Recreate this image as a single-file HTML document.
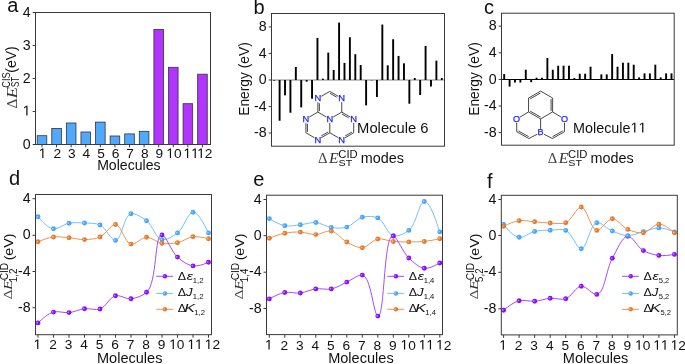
<!DOCTYPE html>
<html><head><meta charset="utf-8"><style>
html,body{margin:0;padding:0;background:#fff;}
svg{display:block;will-change:transform;}
</style></head><body>
<svg width="685" height="364" viewBox="0 0 685 364" shape-rendering="auto">
<rect width="685" height="364" fill="#fff"/>
<text x="7.15" y="11.60" font-size="20" font-family="'Liberation Sans', sans-serif" fill="#111" textLength="11.12" lengthAdjust="spacingAndGlyphs" >a</text>
<text x="253.61" y="13.50" font-size="20" font-family="'Liberation Sans', sans-serif" fill="#111" textLength="11.12" lengthAdjust="spacingAndGlyphs" >b</text>
<text x="484.05" y="13.90" font-size="20" font-family="'Liberation Sans', sans-serif" fill="#111" textLength="10.00" lengthAdjust="spacingAndGlyphs" >c</text>
<text x="9.06" y="185.10" font-size="20" font-family="'Liberation Sans', sans-serif" fill="#111" textLength="11.12" lengthAdjust="spacingAndGlyphs" >d</text>
<text x="253.35" y="185.70" font-size="20" font-family="'Liberation Sans', sans-serif" fill="#111" textLength="11.12" lengthAdjust="spacingAndGlyphs" >e</text>
<text x="486.92" y="187.80" font-size="20" font-family="'Liberation Sans', sans-serif" fill="#111" textLength="5.56" lengthAdjust="spacingAndGlyphs" >f</text>
<line x1="32.70" y1="144.50" x2="35.50" y2="144.50" stroke="#3a3a3a" stroke-width="1" />
<text x="22.70" y="148.50" font-size="14.2" font-family="'Liberation Sans', sans-serif" fill="#111">0</text>
<line x1="32.70" y1="111.50" x2="35.50" y2="111.50" stroke="#3a3a3a" stroke-width="1" />
<path d="M515,0 L515,1237 L197,1010 L197,1180 L530,1409 L696,1409 L696,0 Z" transform="translate(22.70,115.50) scale(0.00693,-0.00693)" fill="#111"/>
<line x1="32.70" y1="78.50" x2="35.50" y2="78.50" stroke="#3a3a3a" stroke-width="1" />
<text x="22.70" y="82.50" font-size="14.2" font-family="'Liberation Sans', sans-serif" fill="#111">2</text>
<line x1="32.70" y1="45.50" x2="35.50" y2="45.50" stroke="#3a3a3a" stroke-width="1" />
<text x="22.70" y="49.50" font-size="14.2" font-family="'Liberation Sans', sans-serif" fill="#111">3</text>
<line x1="32.70" y1="12.50" x2="35.50" y2="12.50" stroke="#3a3a3a" stroke-width="1" />
<text x="22.70" y="16.50" font-size="14.2" font-family="'Liberation Sans', sans-serif" fill="#111">4</text>
<rect x="37.20" y="135.70" width="9.6" height="8.80" fill="#4fa9ff" stroke="#333" stroke-width="0.8"/>
<line x1="42.00" y1="144.50" x2="42.00" y2="147.30" stroke="#3a3a3a" stroke-width="1" />
<path d="M515,0 L515,1237 L197,1010 L197,1180 L530,1409 L696,1409 L696,0 Z" transform="translate(38.79,158.00) scale(0.00669,-0.00669)" fill="#111"/>
<rect x="51.79" y="128.40" width="9.6" height="16.10" fill="#4fa9ff" stroke="#333" stroke-width="0.8"/>
<line x1="56.59" y1="144.50" x2="56.59" y2="147.30" stroke="#3a3a3a" stroke-width="1" />
<text x="53.38" y="158.00" font-size="13.7" font-family="'Liberation Sans', sans-serif" fill="#111">2</text>
<rect x="66.37" y="123.00" width="9.6" height="21.50" fill="#4fa9ff" stroke="#333" stroke-width="0.8"/>
<line x1="71.17" y1="144.50" x2="71.17" y2="147.30" stroke="#3a3a3a" stroke-width="1" />
<text x="67.96" y="158.00" font-size="13.7" font-family="'Liberation Sans', sans-serif" fill="#111">3</text>
<rect x="80.96" y="132.00" width="9.6" height="12.50" fill="#4fa9ff" stroke="#333" stroke-width="0.8"/>
<line x1="85.76" y1="144.50" x2="85.76" y2="147.30" stroke="#3a3a3a" stroke-width="1" />
<text x="82.55" y="158.00" font-size="13.7" font-family="'Liberation Sans', sans-serif" fill="#111">4</text>
<rect x="95.54" y="122.10" width="9.6" height="22.40" fill="#4fa9ff" stroke="#333" stroke-width="0.8"/>
<line x1="100.34" y1="144.50" x2="100.34" y2="147.30" stroke="#3a3a3a" stroke-width="1" />
<text x="97.13" y="158.00" font-size="13.7" font-family="'Liberation Sans', sans-serif" fill="#111">5</text>
<rect x="110.13" y="136.00" width="9.6" height="8.50" fill="#4fa9ff" stroke="#333" stroke-width="0.8"/>
<line x1="114.93" y1="144.50" x2="114.93" y2="147.30" stroke="#3a3a3a" stroke-width="1" />
<text x="111.72" y="158.00" font-size="13.7" font-family="'Liberation Sans', sans-serif" fill="#111">6</text>
<rect x="124.72" y="133.90" width="9.6" height="10.60" fill="#4fa9ff" stroke="#333" stroke-width="0.8"/>
<line x1="129.52" y1="144.50" x2="129.52" y2="147.30" stroke="#3a3a3a" stroke-width="1" />
<text x="126.31" y="158.00" font-size="13.7" font-family="'Liberation Sans', sans-serif" fill="#111">7</text>
<rect x="139.30" y="131.30" width="9.6" height="13.20" fill="#4fa9ff" stroke="#333" stroke-width="0.8"/>
<line x1="144.10" y1="144.50" x2="144.10" y2="147.30" stroke="#3a3a3a" stroke-width="1" />
<text x="140.89" y="158.00" font-size="13.7" font-family="'Liberation Sans', sans-serif" fill="#111">8</text>
<rect x="153.89" y="29.40" width="9.6" height="115.10" fill="#b234ff" stroke="#333" stroke-width="0.8"/>
<line x1="158.69" y1="144.50" x2="158.69" y2="147.30" stroke="#3a3a3a" stroke-width="1" />
<text x="155.48" y="158.00" font-size="13.7" font-family="'Liberation Sans', sans-serif" fill="#111">9</text>
<rect x="168.47" y="67.30" width="9.6" height="77.20" fill="#b234ff" stroke="#333" stroke-width="0.8"/>
<line x1="173.27" y1="144.50" x2="173.27" y2="147.30" stroke="#3a3a3a" stroke-width="1" />
<path d="M515,0 L515,1237 L197,1010 L197,1180 L530,1409 L696,1409 L696,0 Z" transform="translate(166.40,158.00) scale(0.00669,-0.00669)" fill="#111"/>
<text x="174.02" y="158.00" font-size="13.7" font-family="'Liberation Sans', sans-serif" fill="#111">0</text>
<rect x="183.06" y="103.70" width="9.6" height="40.80" fill="#b234ff" stroke="#333" stroke-width="0.8"/>
<line x1="187.86" y1="144.50" x2="187.86" y2="147.30" stroke="#3a3a3a" stroke-width="1" />
<path d="M515,0 L515,1237 L197,1010 L197,1180 L530,1409 L696,1409 L696,0 Z" transform="translate(183.54,158.00) scale(0.00669,-0.00669)" fill="#111"/>
<path d="M515,0 L515,1237 L197,1010 L197,1180 L530,1409 L696,1409 L696,0 Z" transform="translate(191.16,158.00) scale(0.00669,-0.00669)" fill="#111"/>
<rect x="197.65" y="74.20" width="9.6" height="70.30" fill="#b234ff" stroke="#333" stroke-width="0.8"/>
<line x1="202.45" y1="144.50" x2="202.45" y2="147.30" stroke="#3a3a3a" stroke-width="1" />
<path d="M515,0 L515,1237 L197,1010 L197,1180 L530,1409 L696,1409 L696,0 Z" transform="translate(197.23,158.00) scale(0.00669,-0.00669)" fill="#111"/>
<text x="204.85" y="158.00" font-size="13.7" font-family="'Liberation Sans', sans-serif" fill="#111">2</text>
<rect x="35.5" y="12.5" width="175.0" height="132.0" fill="none" stroke="#3a3a3a" stroke-width="1"/>
<text x="97.14" y="169.60" font-size="14.4" font-family="'Liberation Sans', sans-serif" fill="#111" textLength="63.47" lengthAdjust="spacingAndGlyphs" >Molecules</text>
<g transform="rotate(-90)">
<text x="-108.48" y="16.60" font-size="14.5" font-family="'Liberation Serif', serif" fill="#444" textLength="9.86" lengthAdjust="spacingAndGlyphs" >Δ</text>
<text x="-98.58" y="16.80" font-size="14.5" font-family="'Liberation Serif', serif" font-style="italic" fill="#333" textLength="11.58" lengthAdjust="spacingAndGlyphs" >E</text>
<text x="-87.77" y="9.60" font-size="10.2" font-family="'Liberation Sans', sans-serif" fill="#111" textLength="15.39" lengthAdjust="spacingAndGlyphs" >CIS</text>
<text x="-87.06" y="18.60" font-size="10.2" font-family="'Liberation Sans', sans-serif" fill="#111" textLength="10.14" lengthAdjust="spacingAndGlyphs" >ST</text>
<text x="-72.77" y="15.90" font-size="13.8" font-family="'Liberation Sans', sans-serif" fill="#111" textLength="26.44" lengthAdjust="spacingAndGlyphs" >(eV)</text>
</g>
<line x1="268.70" y1="26.96" x2="271.50" y2="26.96" stroke="#3a3a3a" stroke-width="1" />
<text x="258.70" y="31.11" font-size="14.2" font-family="'Liberation Sans', sans-serif" fill="#111">8</text>
<line x1="268.70" y1="53.48" x2="271.50" y2="53.48" stroke="#3a3a3a" stroke-width="1" />
<text x="258.70" y="57.63" font-size="14.2" font-family="'Liberation Sans', sans-serif" fill="#111">4</text>
<line x1="268.70" y1="80.00" x2="271.50" y2="80.00" stroke="#3a3a3a" stroke-width="1" />
<text x="258.70" y="84.15" font-size="14.2" font-family="'Liberation Sans', sans-serif" fill="#111">0</text>
<line x1="268.70" y1="106.52" x2="271.50" y2="106.52" stroke="#3a3a3a" stroke-width="1" />
<text x="253.97" y="110.67" font-size="14.2" font-family="'Liberation Sans', sans-serif" fill="#111">-</text>
<text x="258.70" y="110.67" font-size="14.2" font-family="'Liberation Sans', sans-serif" fill="#111">4</text>
<line x1="268.70" y1="133.04" x2="271.50" y2="133.04" stroke="#3a3a3a" stroke-width="1" />
<text x="253.97" y="137.19" font-size="14.2" font-family="'Liberation Sans', sans-serif" fill="#111">-</text>
<text x="258.70" y="137.19" font-size="14.2" font-family="'Liberation Sans', sans-serif" fill="#111">8</text>
<line x1="271.50" y1="80.00" x2="444.50" y2="80.00" stroke="#888" stroke-width="1" />
<rect x="273.25" y="80.00" width="1.9" height="0.67" fill="#000"/>
<rect x="278.66" y="80.00" width="1.9" height="40.75" fill="#000"/>
<rect x="284.07" y="80.00" width="1.9" height="15.36" fill="#000"/>
<rect x="289.47" y="80.00" width="1.9" height="32.73" fill="#000"/>
<rect x="294.88" y="66.97" width="1.9" height="13.03" fill="#000"/>
<rect x="300.28" y="80.00" width="1.9" height="27.39" fill="#000"/>
<rect x="305.69" y="80.00" width="1.9" height="1.67" fill="#000"/>
<rect x="311.10" y="80.00" width="1.9" height="18.70" fill="#000"/>
<rect x="316.50" y="37.92" width="1.9" height="42.08" fill="#000"/>
<rect x="321.91" y="78.66" width="1.9" height="1.34" fill="#000"/>
<rect x="327.32" y="52.61" width="1.9" height="27.39" fill="#000"/>
<rect x="332.72" y="69.98" width="1.9" height="10.02" fill="#000"/>
<rect x="338.13" y="22.55" width="1.9" height="57.45" fill="#000"/>
<rect x="343.53" y="62.90" width="1.9" height="17.10" fill="#000"/>
<rect x="348.94" y="37.25" width="1.9" height="42.75" fill="#000"/>
<rect x="354.35" y="54.22" width="1.9" height="25.78" fill="#000"/>
<rect x="359.75" y="64.97" width="1.9" height="15.03" fill="#000"/>
<rect x="365.16" y="80.00" width="1.9" height="25.38" fill="#000"/>
<rect x="370.57" y="80.00" width="1.9" height="0.33" fill="#000"/>
<rect x="375.97" y="80.00" width="1.9" height="17.03" fill="#000"/>
<rect x="381.38" y="24.56" width="1.9" height="55.44" fill="#000"/>
<rect x="386.78" y="65.30" width="1.9" height="14.70" fill="#000"/>
<rect x="392.19" y="39.25" width="1.9" height="40.75" fill="#000"/>
<rect x="397.60" y="55.95" width="1.9" height="24.05" fill="#000"/>
<rect x="403.00" y="63.30" width="1.9" height="16.70" fill="#000"/>
<rect x="408.41" y="80.00" width="1.9" height="23.71" fill="#000"/>
<rect x="413.82" y="78.00" width="1.9" height="2.00" fill="#000"/>
<rect x="419.22" y="80.00" width="1.9" height="15.03" fill="#000"/>
<rect x="424.63" y="45.93" width="1.9" height="34.07" fill="#000"/>
<rect x="430.03" y="80.00" width="1.9" height="6.48" fill="#000"/>
<rect x="435.44" y="60.63" width="1.9" height="19.37" fill="#000"/>
<rect x="440.85" y="78.00" width="1.9" height="2.00" fill="#000"/>
<rect x="271.5" y="13.5" width="173.0" height="132.7" fill="none" stroke="#3a3a3a" stroke-width="1"/>
<line x1="498.70" y1="26.20" x2="501.50" y2="26.20" stroke="#3a3a3a" stroke-width="1" />
<text x="488.70" y="30.35" font-size="14.2" font-family="'Liberation Sans', sans-serif" fill="#111">8</text>
<line x1="498.70" y1="52.80" x2="501.50" y2="52.80" stroke="#3a3a3a" stroke-width="1" />
<text x="488.70" y="56.95" font-size="14.2" font-family="'Liberation Sans', sans-serif" fill="#111">4</text>
<line x1="498.70" y1="79.40" x2="501.50" y2="79.40" stroke="#3a3a3a" stroke-width="1" />
<text x="488.70" y="83.55" font-size="14.2" font-family="'Liberation Sans', sans-serif" fill="#111">0</text>
<line x1="498.70" y1="106.00" x2="501.50" y2="106.00" stroke="#3a3a3a" stroke-width="1" />
<text x="483.97" y="110.15" font-size="14.2" font-family="'Liberation Sans', sans-serif" fill="#111">-</text>
<text x="488.70" y="110.15" font-size="14.2" font-family="'Liberation Sans', sans-serif" fill="#111">4</text>
<line x1="498.70" y1="132.60" x2="501.50" y2="132.60" stroke="#3a3a3a" stroke-width="1" />
<text x="483.97" y="136.75" font-size="14.2" font-family="'Liberation Sans', sans-serif" fill="#111">-</text>
<text x="488.70" y="136.75" font-size="14.2" font-family="'Liberation Sans', sans-serif" fill="#111">8</text>
<line x1="501.50" y1="79.50" x2="674.20" y2="79.50" stroke="#000" stroke-width="1" />
<rect x="503.25" y="74.06" width="1.9" height="5.34" fill="#000"/>
<rect x="508.65" y="79.40" width="1.9" height="7.21" fill="#000"/>
<rect x="514.04" y="79.40" width="1.9" height="3.14" fill="#000"/>
<rect x="519.44" y="79.40" width="1.9" height="3.14" fill="#000"/>
<rect x="524.84" y="69.71" width="1.9" height="9.69" fill="#000"/>
<rect x="530.23" y="79.40" width="1.9" height="2.81" fill="#000"/>
<rect x="535.63" y="77.73" width="1.9" height="1.67" fill="#000"/>
<rect x="541.03" y="77.73" width="1.9" height="1.67" fill="#000"/>
<rect x="546.42" y="58.02" width="1.9" height="21.38" fill="#000"/>
<rect x="551.82" y="69.71" width="1.9" height="9.69" fill="#000"/>
<rect x="557.22" y="65.71" width="1.9" height="13.69" fill="#000"/>
<rect x="562.61" y="65.71" width="1.9" height="13.69" fill="#000"/>
<rect x="568.01" y="65.71" width="1.9" height="13.69" fill="#000"/>
<rect x="573.41" y="78.06" width="1.9" height="1.34" fill="#000"/>
<rect x="578.80" y="73.72" width="1.9" height="5.68" fill="#000"/>
<rect x="584.20" y="73.72" width="1.9" height="5.68" fill="#000"/>
<rect x="589.60" y="66.71" width="1.9" height="12.69" fill="#000"/>
<rect x="595.00" y="79.07" width="1.9" height="0.33" fill="#000"/>
<rect x="600.39" y="74.39" width="1.9" height="5.01" fill="#000"/>
<rect x="605.79" y="74.39" width="1.9" height="5.01" fill="#000"/>
<rect x="611.19" y="54.02" width="1.9" height="25.38" fill="#000"/>
<rect x="616.58" y="66.71" width="1.9" height="12.69" fill="#000"/>
<rect x="621.98" y="62.70" width="1.9" height="16.70" fill="#000"/>
<rect x="627.38" y="62.70" width="1.9" height="16.70" fill="#000"/>
<rect x="632.77" y="64.70" width="1.9" height="14.70" fill="#000"/>
<rect x="638.17" y="77.40" width="1.9" height="2.00" fill="#000"/>
<rect x="643.57" y="73.39" width="1.9" height="6.01" fill="#000"/>
<rect x="648.96" y="73.39" width="1.9" height="6.01" fill="#000"/>
<rect x="654.36" y="64.70" width="1.9" height="14.70" fill="#000"/>
<rect x="659.76" y="77.40" width="1.9" height="2.00" fill="#000"/>
<rect x="665.15" y="73.39" width="1.9" height="6.01" fill="#000"/>
<rect x="670.55" y="73.39" width="1.9" height="6.01" fill="#000"/>
<rect x="501.5" y="13.2" width="172.70000000000005" height="132.0" fill="none" stroke="#3a3a3a" stroke-width="1"/>
<g transform="rotate(-90)">
<text x="-115.73" y="249.30" font-size="14" font-family="'Liberation Sans', sans-serif" fill="#111" textLength="73.48" lengthAdjust="spacingAndGlyphs" >Energy (eV)</text>
</g>
<g transform="rotate(-90)">
<text x="-115.73" y="479.30" font-size="14" font-family="'Liberation Sans', sans-serif" fill="#111" textLength="73.48" lengthAdjust="spacingAndGlyphs" >Energy (eV)</text>
</g>
<text x="318.04" y="162.70" font-size="14.3" font-family="'Liberation Serif', serif" fill="#444" textLength="9.52" lengthAdjust="spacingAndGlyphs" >Δ</text>
<text x="329.08" y="162.70" font-size="14.3" font-family="'Liberation Serif', serif" font-style="italic" fill="#333" textLength="9.57" lengthAdjust="spacingAndGlyphs" >E</text>
<text x="338.33" y="158.00" font-size="10.5" font-family="'Liberation Sans', sans-serif" fill="#111" textLength="19.41" lengthAdjust="spacingAndGlyphs" >CID</text>
<text x="338.62" y="166.10" font-size="9.3" font-family="'Liberation Sans', sans-serif" fill="#111" textLength="13.63" lengthAdjust="spacingAndGlyphs" >ST</text>
<text x="360.74" y="163.10" font-size="14.5" font-family="'Liberation Sans', sans-serif" fill="#111" textLength="43.17" lengthAdjust="spacingAndGlyphs" >modes</text>
<text x="547.74" y="162.70" font-size="14.3" font-family="'Liberation Serif', serif" fill="#444" textLength="9.52" lengthAdjust="spacingAndGlyphs" >Δ</text>
<text x="558.78" y="162.70" font-size="14.3" font-family="'Liberation Serif', serif" font-style="italic" fill="#333" textLength="9.57" lengthAdjust="spacingAndGlyphs" >E</text>
<text x="568.03" y="158.00" font-size="10.5" font-family="'Liberation Sans', sans-serif" fill="#111" textLength="19.41" lengthAdjust="spacingAndGlyphs" >CID</text>
<text x="568.32" y="166.10" font-size="9.3" font-family="'Liberation Sans', sans-serif" fill="#111" textLength="13.63" lengthAdjust="spacingAndGlyphs" >ST</text>
<text x="590.44" y="163.10" font-size="14.5" font-family="'Liberation Sans', sans-serif" fill="#111" textLength="43.17" lengthAdjust="spacingAndGlyphs" >modes</text>
<text x="357.09" y="132.60" font-size="14.3" font-family="'Liberation Sans', sans-serif" fill="#111" textLength="71.46" lengthAdjust="spacingAndGlyphs" >Molecule 6</text>
<text x="573.02" y="132.5" font-size="14.3" font-family="'Liberation Sans', sans-serif" fill="#111" textLength="57.50" lengthAdjust="spacingAndGlyphs">Molecule</text>
<path d="M515,0 L515,1237 L197,1010 L197,1180 L530,1409 L696,1409 L696,0 Z" transform="translate(630.52,132.5) scale(0.00702,-0.00698)" fill="#111"/>
<path d="M515,0 L515,1237 L197,1010 L197,1180 L530,1409 L696,1409 L696,0 Z" transform="translate(638.51,132.5) scale(0.00702,-0.00698)" fill="#111"/>
<line x1="326.42" y1="117.05" x2="317.85" y2="112.10" stroke="#333" stroke-width="0.9" />
<line x1="333.18" y1="117.05" x2="341.75" y2="112.10" stroke="#333" stroke-width="0.9" />
<line x1="329.80" y1="122.90" x2="329.80" y2="132.80" stroke="#333" stroke-width="0.9" />
<line x1="317.85" y1="112.10" x2="317.85" y2="102.20" stroke="#333" stroke-width="0.9" />
<line x1="319.40" y1="111.10" x2="319.40" y2="103.20" stroke="#333" stroke-width="0.9" />
<line x1="321.23" y1="96.35" x2="329.80" y2="91.40" stroke="#333" stroke-width="0.9" />
<line x1="329.80" y1="91.40" x2="338.37" y2="96.35" stroke="#333" stroke-width="0.9" />
<line x1="329.89" y1="93.24" x2="336.73" y2="97.19" stroke="#333" stroke-width="0.9" />
<line x1="341.75" y1="102.20" x2="341.75" y2="112.10" stroke="#333" stroke-width="0.9" />
<line x1="317.85" y1="112.10" x2="309.28" y2="117.05" stroke="#333" stroke-width="0.9" />
<line x1="305.90" y1="122.90" x2="305.90" y2="132.80" stroke="#333" stroke-width="0.9" />
<line x1="307.45" y1="123.90" x2="307.45" y2="131.80" stroke="#333" stroke-width="0.9" />
<line x1="305.90" y1="132.80" x2="314.47" y2="137.75" stroke="#333" stroke-width="0.9" />
<line x1="321.23" y1="137.75" x2="329.80" y2="132.80" stroke="#333" stroke-width="0.9" />
<line x1="321.32" y1="135.91" x2="328.16" y2="131.96" stroke="#333" stroke-width="0.9" />
<line x1="341.75" y1="112.10" x2="350.32" y2="117.05" stroke="#333" stroke-width="0.9" />
<line x1="341.84" y1="113.94" x2="348.68" y2="117.89" stroke="#333" stroke-width="0.9" />
<line x1="353.70" y1="122.90" x2="353.70" y2="132.80" stroke="#333" stroke-width="0.9" />
<line x1="353.70" y1="132.80" x2="345.13" y2="137.75" stroke="#333" stroke-width="0.9" />
<line x1="352.06" y1="131.96" x2="345.22" y2="135.91" stroke="#333" stroke-width="0.9" />
<line x1="338.37" y1="137.75" x2="329.80" y2="132.80" stroke="#333" stroke-width="0.9" />
<text x="329.80" y="121.82" font-size="9.4" text-anchor="middle" font-family="'Liberation Sans', sans-serif" fill="#1c1cff" stroke="#1c1cff" stroke-width="0.25">N</text>
<text x="317.85" y="101.12" font-size="9.4" text-anchor="middle" font-family="'Liberation Sans', sans-serif" fill="#1c1cff" stroke="#1c1cff" stroke-width="0.25">N</text>
<text x="341.75" y="101.12" font-size="9.4" text-anchor="middle" font-family="'Liberation Sans', sans-serif" fill="#1c1cff" stroke="#1c1cff" stroke-width="0.25">N</text>
<text x="305.90" y="121.82" font-size="9.4" text-anchor="middle" font-family="'Liberation Sans', sans-serif" fill="#1c1cff" stroke="#1c1cff" stroke-width="0.25">N</text>
<text x="317.85" y="142.52" font-size="9.4" text-anchor="middle" font-family="'Liberation Sans', sans-serif" fill="#1c1cff" stroke="#1c1cff" stroke-width="0.25">N</text>
<text x="353.70" y="121.82" font-size="9.4" text-anchor="middle" font-family="'Liberation Sans', sans-serif" fill="#1c1cff" stroke="#1c1cff" stroke-width="0.25">N</text>
<text x="341.75" y="142.52" font-size="9.4" text-anchor="middle" font-family="'Liberation Sans', sans-serif" fill="#1c1cff" stroke="#1c1cff" stroke-width="0.25">N</text>
<line x1="540.60" y1="91.10" x2="528.56" y2="98.05" stroke="#333" stroke-width="0.9" />
<line x1="540.51" y1="92.94" x2="530.20" y2="98.89" stroke="#333" stroke-width="0.9" />
<line x1="528.56" y1="98.05" x2="528.56" y2="111.95" stroke="#333" stroke-width="0.9" />
<line x1="528.56" y1="111.95" x2="540.60" y2="118.90" stroke="#333" stroke-width="0.9" />
<line x1="530.20" y1="111.11" x2="540.51" y2="117.06" stroke="#333" stroke-width="0.9" />
<line x1="540.60" y1="118.90" x2="552.64" y2="111.95" stroke="#333" stroke-width="0.9" />
<line x1="552.64" y1="111.95" x2="552.64" y2="98.05" stroke="#333" stroke-width="0.9" />
<line x1="551.09" y1="110.95" x2="551.09" y2="99.05" stroke="#333" stroke-width="0.9" />
<line x1="552.64" y1="98.05" x2="540.60" y2="91.10" stroke="#333" stroke-width="0.9" />
<line x1="528.56" y1="111.95" x2="519.76" y2="117.28" stroke="#333" stroke-width="0.9" />
<line x1="552.64" y1="111.95" x2="561.44" y2="117.28" stroke="#333" stroke-width="0.9" />
<line x1="540.60" y1="118.90" x2="540.60" y2="128.90" stroke="#333" stroke-width="0.9" />
<line x1="516.66" y1="122.90" x2="516.80" y2="131.80" stroke="#333" stroke-width="0.9" />
<line x1="516.80" y1="131.80" x2="528.80" y2="138.50" stroke="#333" stroke-width="0.9" />
<line x1="518.43" y1="130.93" x2="528.68" y2="136.66" stroke="#333" stroke-width="0.9" />
<line x1="528.80" y1="138.50" x2="537.29" y2="134.25" stroke="#333" stroke-width="0.9" />
<line x1="543.91" y1="134.25" x2="552.40" y2="138.50" stroke="#333" stroke-width="0.9" />
<line x1="552.40" y1="138.50" x2="564.40" y2="131.80" stroke="#333" stroke-width="0.9" />
<line x1="552.52" y1="136.66" x2="562.77" y2="130.93" stroke="#333" stroke-width="0.9" />
<line x1="564.40" y1="131.80" x2="564.54" y2="122.90" stroke="#333" stroke-width="0.9" />
<text x="516.60" y="121.90" font-size="9.0" text-anchor="middle" font-family="'Liberation Sans', sans-serif" fill="#1c1cff" stroke="#1c1cff" stroke-width="0.25">O</text>
<text x="564.60" y="121.90" font-size="9.0" text-anchor="middle" font-family="'Liberation Sans', sans-serif" fill="#1c1cff" stroke="#1c1cff" stroke-width="0.25">O</text>
<text x="540.60" y="135.30" font-size="9.0" text-anchor="middle" font-family="'Liberation Sans', sans-serif" fill="#1c1cff" stroke="#1c1cff" stroke-width="0.25">B</text>
<line x1="32.50" y1="198.70" x2="35.50" y2="198.70" stroke="#3a3a3a" stroke-width="1" />
<text x="22.70" y="202.70" font-size="14.2" font-family="'Liberation Sans', sans-serif" fill="#111">4</text>
<line x1="32.50" y1="235.30" x2="35.50" y2="235.30" stroke="#3a3a3a" stroke-width="1" />
<text x="22.70" y="239.30" font-size="14.2" font-family="'Liberation Sans', sans-serif" fill="#111">0</text>
<line x1="32.50" y1="271.50" x2="35.50" y2="271.50" stroke="#3a3a3a" stroke-width="1" />
<text x="17.97" y="275.50" font-size="14.2" font-family="'Liberation Sans', sans-serif" fill="#111">-</text>
<text x="22.70" y="275.50" font-size="14.2" font-family="'Liberation Sans', sans-serif" fill="#111">4</text>
<line x1="32.50" y1="307.70" x2="35.50" y2="307.70" stroke="#3a3a3a" stroke-width="1" />
<text x="17.97" y="311.70" font-size="14.2" font-family="'Liberation Sans', sans-serif" fill="#111">-</text>
<text x="22.70" y="311.70" font-size="14.2" font-family="'Liberation Sans', sans-serif" fill="#111">8</text>
<line x1="38.00" y1="334.70" x2="38.00" y2="337.70" stroke="#3a3a3a" stroke-width="1" />
<path d="M515,0 L515,1237 L197,1010 L197,1180 L530,1409 L696,1409 L696,0 Z" transform="translate(33.69,349.00) scale(0.00669,-0.00669)" fill="#111"/>
<line x1="53.50" y1="334.70" x2="53.50" y2="337.70" stroke="#3a3a3a" stroke-width="1" />
<text x="49.19" y="349.00" font-size="13.7" font-family="'Liberation Sans', sans-serif" fill="#111">2</text>
<line x1="69.00" y1="334.70" x2="69.00" y2="337.70" stroke="#3a3a3a" stroke-width="1" />
<text x="64.69" y="349.00" font-size="13.7" font-family="'Liberation Sans', sans-serif" fill="#111">3</text>
<line x1="84.50" y1="334.70" x2="84.50" y2="337.70" stroke="#3a3a3a" stroke-width="1" />
<text x="80.19" y="349.00" font-size="13.7" font-family="'Liberation Sans', sans-serif" fill="#111">4</text>
<line x1="100.00" y1="334.70" x2="100.00" y2="337.70" stroke="#3a3a3a" stroke-width="1" />
<text x="95.69" y="349.00" font-size="13.7" font-family="'Liberation Sans', sans-serif" fill="#111">5</text>
<line x1="115.50" y1="334.70" x2="115.50" y2="337.70" stroke="#3a3a3a" stroke-width="1" />
<text x="111.19" y="349.00" font-size="13.7" font-family="'Liberation Sans', sans-serif" fill="#111">6</text>
<line x1="131.00" y1="334.70" x2="131.00" y2="337.70" stroke="#3a3a3a" stroke-width="1" />
<text x="126.69" y="349.00" font-size="13.7" font-family="'Liberation Sans', sans-serif" fill="#111">7</text>
<line x1="146.50" y1="334.70" x2="146.50" y2="337.70" stroke="#3a3a3a" stroke-width="1" />
<text x="142.19" y="349.00" font-size="13.7" font-family="'Liberation Sans', sans-serif" fill="#111">8</text>
<line x1="162.00" y1="334.70" x2="162.00" y2="337.70" stroke="#3a3a3a" stroke-width="1" />
<text x="157.69" y="349.00" font-size="13.7" font-family="'Liberation Sans', sans-serif" fill="#111">9</text>
<line x1="177.50" y1="334.70" x2="177.50" y2="337.70" stroke="#3a3a3a" stroke-width="1" />
<path d="M515,0 L515,1237 L197,1010 L197,1180 L530,1409 L696,1409 L696,0 Z" transform="translate(169.23,349.00) scale(0.00669,-0.00669)" fill="#111"/>
<text x="176.85" y="349.00" font-size="13.7" font-family="'Liberation Sans', sans-serif" fill="#111">0</text>
<line x1="193.00" y1="334.70" x2="193.00" y2="337.70" stroke="#3a3a3a" stroke-width="1" />
<path d="M515,0 L515,1237 L197,1010 L197,1180 L530,1409 L696,1409 L696,0 Z" transform="translate(187.48,349.00) scale(0.00669,-0.00669)" fill="#111"/>
<path d="M515,0 L515,1237 L197,1010 L197,1180 L530,1409 L696,1409 L696,0 Z" transform="translate(195.10,349.00) scale(0.00669,-0.00669)" fill="#111"/>
<line x1="208.50" y1="334.70" x2="208.50" y2="337.70" stroke="#3a3a3a" stroke-width="1" />
<path d="M515,0 L515,1237 L197,1010 L197,1180 L530,1409 L696,1409 L696,0 Z" transform="translate(204.78,349.00) scale(0.00669,-0.00669)" fill="#111"/>
<text x="212.40" y="349.00" font-size="13.7" font-family="'Liberation Sans', sans-serif" fill="#111">2</text>
<path d="M38.00,216.80 C42.98,222.43 47.95,228.06 53.50,228.80 C58.37,229.45 63.71,224.15 69.00,223.20 C74.05,222.29 79.35,222.70 84.50,223.00 C89.68,223.30 95.34,222.88 100.00,225.00 C106.00,227.73 110.85,240.49 115.50,240.40 C121.53,240.28 124.06,215.01 131.00,213.75 C135.44,212.95 141.87,217.31 146.50,220.70 C152.59,225.15 155.89,238.56 162.00,239.60 C166.63,240.39 172.93,236.30 177.50,232.90 C183.78,228.23 187.83,212.30 193.00,212.30 C198.17,212.30 203.33,222.60 208.50,232.90" fill="none" stroke="#72bfff" stroke-width="1"/>
<circle cx="38.00" cy="216.80" r="2.45" fill="#45a5fc"/>
<circle cx="37.25" cy="216.50" r="0.85" fill="#fff" opacity="0.5"/>
<circle cx="53.50" cy="228.80" r="2.45" fill="#45a5fc"/>
<circle cx="52.75" cy="228.50" r="0.85" fill="#fff" opacity="0.5"/>
<circle cx="69.00" cy="223.20" r="2.45" fill="#45a5fc"/>
<circle cx="68.25" cy="222.90" r="0.85" fill="#fff" opacity="0.5"/>
<circle cx="84.50" cy="223.00" r="2.45" fill="#45a5fc"/>
<circle cx="83.75" cy="222.70" r="0.85" fill="#fff" opacity="0.5"/>
<circle cx="100.00" cy="225.00" r="2.45" fill="#45a5fc"/>
<circle cx="99.25" cy="224.70" r="0.85" fill="#fff" opacity="0.5"/>
<circle cx="115.50" cy="240.40" r="2.45" fill="#45a5fc"/>
<circle cx="114.75" cy="240.10" r="0.85" fill="#fff" opacity="0.5"/>
<circle cx="131.00" cy="213.75" r="2.45" fill="#45a5fc"/>
<circle cx="130.25" cy="213.45" r="0.85" fill="#fff" opacity="0.5"/>
<circle cx="146.50" cy="220.70" r="2.45" fill="#45a5fc"/>
<circle cx="145.75" cy="220.40" r="0.85" fill="#fff" opacity="0.5"/>
<circle cx="162.00" cy="239.60" r="2.45" fill="#45a5fc"/>
<circle cx="161.25" cy="239.30" r="0.85" fill="#fff" opacity="0.5"/>
<circle cx="177.50" cy="232.90" r="2.45" fill="#45a5fc"/>
<circle cx="176.75" cy="232.60" r="0.85" fill="#fff" opacity="0.5"/>
<circle cx="193.00" cy="212.30" r="2.45" fill="#45a5fc"/>
<circle cx="192.25" cy="212.00" r="0.85" fill="#fff" opacity="0.5"/>
<circle cx="208.50" cy="232.90" r="2.45" fill="#45a5fc"/>
<circle cx="207.75" cy="232.60" r="0.85" fill="#fff" opacity="0.5"/>
<path d="M38.00,241.80 C43.12,239.73 48.24,237.66 53.50,237.00 C58.58,236.36 63.85,237.27 69.00,237.70 C74.18,238.13 79.35,239.71 84.50,239.60 C89.68,239.49 95.22,239.06 100.00,237.00 C105.71,234.54 110.70,224.24 115.50,224.50 C121.19,224.81 124.83,243.05 131.00,244.10 C135.61,244.89 141.29,237.42 146.50,237.30 C151.63,237.18 156.70,242.33 162.00,243.20 C167.04,244.03 172.46,243.70 177.50,242.70 C182.80,241.65 187.71,237.41 193.00,236.80 C198.06,236.21 203.28,237.48 208.50,238.75" fill="none" stroke="#ef9450" stroke-width="1"/>
<circle cx="38.00" cy="241.80" r="2.45" fill="#e67a2a"/>
<circle cx="37.25" cy="241.50" r="0.85" fill="#fff" opacity="0.5"/>
<circle cx="53.50" cy="237.00" r="2.45" fill="#e67a2a"/>
<circle cx="52.75" cy="236.70" r="0.85" fill="#fff" opacity="0.5"/>
<circle cx="69.00" cy="237.70" r="2.45" fill="#e67a2a"/>
<circle cx="68.25" cy="237.40" r="0.85" fill="#fff" opacity="0.5"/>
<circle cx="84.50" cy="239.60" r="2.45" fill="#e67a2a"/>
<circle cx="83.75" cy="239.30" r="0.85" fill="#fff" opacity="0.5"/>
<circle cx="100.00" cy="237.00" r="2.45" fill="#e67a2a"/>
<circle cx="99.25" cy="236.70" r="0.85" fill="#fff" opacity="0.5"/>
<circle cx="115.50" cy="224.50" r="2.45" fill="#e67a2a"/>
<circle cx="114.75" cy="224.20" r="0.85" fill="#fff" opacity="0.5"/>
<circle cx="131.00" cy="244.10" r="2.45" fill="#e67a2a"/>
<circle cx="130.25" cy="243.80" r="0.85" fill="#fff" opacity="0.5"/>
<circle cx="146.50" cy="237.30" r="2.45" fill="#e67a2a"/>
<circle cx="145.75" cy="237.00" r="0.85" fill="#fff" opacity="0.5"/>
<circle cx="162.00" cy="243.20" r="2.45" fill="#e67a2a"/>
<circle cx="161.25" cy="242.90" r="0.85" fill="#fff" opacity="0.5"/>
<circle cx="177.50" cy="242.70" r="2.45" fill="#e67a2a"/>
<circle cx="176.75" cy="242.40" r="0.85" fill="#fff" opacity="0.5"/>
<circle cx="193.00" cy="236.80" r="2.45" fill="#e67a2a"/>
<circle cx="192.25" cy="236.50" r="0.85" fill="#fff" opacity="0.5"/>
<circle cx="208.50" cy="238.75" r="2.45" fill="#e67a2a"/>
<circle cx="207.75" cy="238.45" r="0.85" fill="#fff" opacity="0.5"/>
<path d="M38.00,322.90 C42.95,318.28 47.89,313.66 53.50,312.10 C58.34,310.75 63.89,313.14 69.00,312.60 C74.23,312.04 79.27,309.29 84.50,308.70 C89.61,308.12 95.26,310.56 100.00,309.00 C105.81,307.09 109.74,297.13 115.50,295.80 C120.26,294.70 125.95,299.30 131.00,298.80 C136.29,298.28 142.22,295.93 146.50,292.30 C157.55,282.93 154.16,233.14 162.00,234.90 C166.35,235.88 171.23,251.66 177.50,257.10 C182.08,261.08 187.59,265.18 193.00,265.90 C197.96,266.56 203.23,264.43 208.50,262.30" fill="none" stroke="#a24bff" stroke-width="1"/>
<circle cx="38.00" cy="322.90" r="2.45" fill="#8a0cff"/>
<circle cx="37.25" cy="322.60" r="0.85" fill="#fff" opacity="0.5"/>
<circle cx="53.50" cy="312.10" r="2.45" fill="#8a0cff"/>
<circle cx="52.75" cy="311.80" r="0.85" fill="#fff" opacity="0.5"/>
<circle cx="69.00" cy="312.60" r="2.45" fill="#8a0cff"/>
<circle cx="68.25" cy="312.30" r="0.85" fill="#fff" opacity="0.5"/>
<circle cx="84.50" cy="308.70" r="2.45" fill="#8a0cff"/>
<circle cx="83.75" cy="308.40" r="0.85" fill="#fff" opacity="0.5"/>
<circle cx="100.00" cy="309.00" r="2.45" fill="#8a0cff"/>
<circle cx="99.25" cy="308.70" r="0.85" fill="#fff" opacity="0.5"/>
<circle cx="115.50" cy="295.80" r="2.45" fill="#8a0cff"/>
<circle cx="114.75" cy="295.50" r="0.85" fill="#fff" opacity="0.5"/>
<circle cx="131.00" cy="298.80" r="2.45" fill="#8a0cff"/>
<circle cx="130.25" cy="298.50" r="0.85" fill="#fff" opacity="0.5"/>
<circle cx="146.50" cy="292.30" r="2.45" fill="#8a0cff"/>
<circle cx="145.75" cy="292.00" r="0.85" fill="#fff" opacity="0.5"/>
<circle cx="162.00" cy="234.90" r="2.45" fill="#8a0cff"/>
<circle cx="161.25" cy="234.60" r="0.85" fill="#fff" opacity="0.5"/>
<circle cx="177.50" cy="257.10" r="2.45" fill="#8a0cff"/>
<circle cx="176.75" cy="256.80" r="0.85" fill="#fff" opacity="0.5"/>
<circle cx="193.00" cy="265.90" r="2.45" fill="#8a0cff"/>
<circle cx="192.25" cy="265.60" r="0.85" fill="#fff" opacity="0.5"/>
<circle cx="208.50" cy="262.30" r="2.45" fill="#8a0cff"/>
<circle cx="207.75" cy="262.00" r="0.85" fill="#fff" opacity="0.5"/>
<line x1="156.30" y1="276.30" x2="173.10" y2="276.30" stroke="#a24bff" stroke-width="1" />
<circle cx="164.90" cy="276.30" r="2.25" fill="#8a0cff"/>
<circle cx="164.15" cy="276.00" r="0.85" fill="#fff" opacity="0.5"/>
<text x="177.73" y="280.40" font-size="11.6" font-family="'Liberation Sans', sans-serif" fill="#111" textLength="8.35" lengthAdjust="spacingAndGlyphs" >Δ</text>
<text x="186.76" y="280.40" font-size="11.6" font-family="'Liberation Sans', sans-serif" font-style="italic" fill="#111" textLength="6.27" lengthAdjust="spacingAndGlyphs" >ε</text>
<text x="192.71" y="283.00" font-size="7.8" font-family="'Liberation Sans', sans-serif" fill="#111" textLength="10.78" lengthAdjust="spacingAndGlyphs" >1,2</text>
<line x1="156.30" y1="293.40" x2="173.10" y2="293.40" stroke="#72bfff" stroke-width="1" />
<circle cx="164.90" cy="293.40" r="2.25" fill="#45a5fc"/>
<circle cx="164.15" cy="293.10" r="0.85" fill="#fff" opacity="0.5"/>
<text x="177.73" y="296.10" font-size="11.6" font-family="'Liberation Sans', sans-serif" fill="#111" textLength="8.35" lengthAdjust="spacingAndGlyphs" >Δ</text>
<text x="186.03" y="296.10" font-size="11.6" font-family="'Liberation Sans', sans-serif" font-style="italic" fill="#111" textLength="6.57" lengthAdjust="spacingAndGlyphs" >J</text>
<text x="192.71" y="298.70" font-size="7.8" font-family="'Liberation Sans', sans-serif" fill="#111" textLength="10.78" lengthAdjust="spacingAndGlyphs" >1,2</text>
<line x1="156.30" y1="309.30" x2="173.10" y2="309.30" stroke="#ef9450" stroke-width="1" />
<circle cx="164.90" cy="309.30" r="2.25" fill="#e67a2a"/>
<circle cx="164.15" cy="309.00" r="0.85" fill="#fff" opacity="0.5"/>
<text x="177.73" y="312.20" font-size="11.6" font-family="'Liberation Sans', sans-serif" fill="#111" textLength="8.35" lengthAdjust="spacingAndGlyphs" >Δ</text>
<text x="184.31" y="312.20" font-size="11.6" font-family="'Liberation Sans', sans-serif" font-style="italic" fill="#111" textLength="10.71" lengthAdjust="spacingAndGlyphs" >K</text>
<text x="194.31" y="314.90" font-size="7.8" font-family="'Liberation Sans', sans-serif" fill="#111" textLength="10.78" lengthAdjust="spacingAndGlyphs" >1,2</text>
<rect x="35.5" y="194.5" width="176.0" height="140.2" fill="none" stroke="#3a3a3a" stroke-width="1"/>
<text x="96.96" y="362.70" font-size="14.4" font-family="'Liberation Sans', sans-serif" fill="#111" textLength="65.52" lengthAdjust="spacingAndGlyphs" >Molecules</text>
<line x1="263.50" y1="199.50" x2="266.50" y2="199.50" stroke="#3a3a3a" stroke-width="1" />
<text x="253.70" y="203.50" font-size="14.2" font-family="'Liberation Sans', sans-serif" fill="#111">4</text>
<line x1="263.50" y1="235.70" x2="266.50" y2="235.70" stroke="#3a3a3a" stroke-width="1" />
<text x="253.70" y="239.70" font-size="14.2" font-family="'Liberation Sans', sans-serif" fill="#111">0</text>
<line x1="263.50" y1="272.20" x2="266.50" y2="272.20" stroke="#3a3a3a" stroke-width="1" />
<text x="248.97" y="276.20" font-size="14.2" font-family="'Liberation Sans', sans-serif" fill="#111">-</text>
<text x="253.70" y="276.20" font-size="14.2" font-family="'Liberation Sans', sans-serif" fill="#111">4</text>
<line x1="263.50" y1="308.50" x2="266.50" y2="308.50" stroke="#3a3a3a" stroke-width="1" />
<text x="248.97" y="312.50" font-size="14.2" font-family="'Liberation Sans', sans-serif" fill="#111">-</text>
<text x="253.70" y="312.50" font-size="14.2" font-family="'Liberation Sans', sans-serif" fill="#111">8</text>
<line x1="269.30" y1="334.60" x2="269.30" y2="337.60" stroke="#3a3a3a" stroke-width="1" />
<path d="M515,0 L515,1237 L197,1010 L197,1180 L530,1409 L696,1409 L696,0 Z" transform="translate(264.99,349.50) scale(0.00669,-0.00669)" fill="#111"/>
<line x1="284.80" y1="334.60" x2="284.80" y2="337.60" stroke="#3a3a3a" stroke-width="1" />
<text x="280.49" y="349.50" font-size="13.7" font-family="'Liberation Sans', sans-serif" fill="#111">2</text>
<line x1="300.30" y1="334.60" x2="300.30" y2="337.60" stroke="#3a3a3a" stroke-width="1" />
<text x="295.99" y="349.50" font-size="13.7" font-family="'Liberation Sans', sans-serif" fill="#111">3</text>
<line x1="315.80" y1="334.60" x2="315.80" y2="337.60" stroke="#3a3a3a" stroke-width="1" />
<text x="311.49" y="349.50" font-size="13.7" font-family="'Liberation Sans', sans-serif" fill="#111">4</text>
<line x1="331.30" y1="334.60" x2="331.30" y2="337.60" stroke="#3a3a3a" stroke-width="1" />
<text x="326.99" y="349.50" font-size="13.7" font-family="'Liberation Sans', sans-serif" fill="#111">5</text>
<line x1="346.80" y1="334.60" x2="346.80" y2="337.60" stroke="#3a3a3a" stroke-width="1" />
<text x="342.49" y="349.50" font-size="13.7" font-family="'Liberation Sans', sans-serif" fill="#111">6</text>
<line x1="362.30" y1="334.60" x2="362.30" y2="337.60" stroke="#3a3a3a" stroke-width="1" />
<text x="357.99" y="349.50" font-size="13.7" font-family="'Liberation Sans', sans-serif" fill="#111">7</text>
<line x1="377.80" y1="334.60" x2="377.80" y2="337.60" stroke="#3a3a3a" stroke-width="1" />
<text x="373.49" y="349.50" font-size="13.7" font-family="'Liberation Sans', sans-serif" fill="#111">8</text>
<line x1="393.30" y1="334.60" x2="393.30" y2="337.60" stroke="#3a3a3a" stroke-width="1" />
<text x="388.99" y="349.50" font-size="13.7" font-family="'Liberation Sans', sans-serif" fill="#111">9</text>
<line x1="408.80" y1="334.60" x2="408.80" y2="337.60" stroke="#3a3a3a" stroke-width="1" />
<path d="M515,0 L515,1237 L197,1010 L197,1180 L530,1409 L696,1409 L696,0 Z" transform="translate(400.53,349.50) scale(0.00669,-0.00669)" fill="#111"/>
<text x="408.15" y="349.50" font-size="13.7" font-family="'Liberation Sans', sans-serif" fill="#111">0</text>
<line x1="424.30" y1="334.60" x2="424.30" y2="337.60" stroke="#3a3a3a" stroke-width="1" />
<path d="M515,0 L515,1237 L197,1010 L197,1180 L530,1409 L696,1409 L696,0 Z" transform="translate(418.78,349.50) scale(0.00669,-0.00669)" fill="#111"/>
<path d="M515,0 L515,1237 L197,1010 L197,1180 L530,1409 L696,1409 L696,0 Z" transform="translate(426.40,349.50) scale(0.00669,-0.00669)" fill="#111"/>
<line x1="439.80" y1="334.60" x2="439.80" y2="337.60" stroke="#3a3a3a" stroke-width="1" />
<path d="M515,0 L515,1237 L197,1010 L197,1180 L530,1409 L696,1409 L696,0 Z" transform="translate(436.08,349.50) scale(0.00669,-0.00669)" fill="#111"/>
<text x="443.70" y="349.50" font-size="13.7" font-family="'Liberation Sans', sans-serif" fill="#111">2</text>
<path d="M269.30,218.60 C274.37,221.66 279.44,224.72 284.80,225.70 C289.80,226.61 295.15,225.33 300.30,224.80 C305.48,224.27 310.71,222.09 315.80,222.50 C321.04,222.92 326.03,226.75 331.30,227.50 C336.37,228.22 341.92,228.52 346.80,227.10 C352.33,225.49 356.77,218.71 362.30,217.30 C367.18,216.06 373.23,215.95 377.80,217.90 C384.08,220.57 387.20,234.57 393.30,235.80 C397.93,236.73 404.41,233.67 408.80,230.40 C416.17,224.91 419.21,201.54 424.30,201.50 C429.55,201.45 434.67,216.68 439.80,231.90" fill="none" stroke="#72bfff" stroke-width="1"/>
<circle cx="269.30" cy="218.60" r="2.45" fill="#45a5fc"/>
<circle cx="268.55" cy="218.30" r="0.85" fill="#fff" opacity="0.5"/>
<circle cx="284.80" cy="225.70" r="2.45" fill="#45a5fc"/>
<circle cx="284.05" cy="225.40" r="0.85" fill="#fff" opacity="0.5"/>
<circle cx="300.30" cy="224.80" r="2.45" fill="#45a5fc"/>
<circle cx="299.55" cy="224.50" r="0.85" fill="#fff" opacity="0.5"/>
<circle cx="315.80" cy="222.50" r="2.45" fill="#45a5fc"/>
<circle cx="315.05" cy="222.20" r="0.85" fill="#fff" opacity="0.5"/>
<circle cx="331.30" cy="227.50" r="2.45" fill="#45a5fc"/>
<circle cx="330.55" cy="227.20" r="0.85" fill="#fff" opacity="0.5"/>
<circle cx="346.80" cy="227.10" r="2.45" fill="#45a5fc"/>
<circle cx="346.05" cy="226.80" r="0.85" fill="#fff" opacity="0.5"/>
<circle cx="362.30" cy="217.30" r="2.45" fill="#45a5fc"/>
<circle cx="361.55" cy="217.00" r="0.85" fill="#fff" opacity="0.5"/>
<circle cx="377.80" cy="217.90" r="2.45" fill="#45a5fc"/>
<circle cx="377.05" cy="217.60" r="0.85" fill="#fff" opacity="0.5"/>
<circle cx="393.30" cy="235.80" r="2.45" fill="#45a5fc"/>
<circle cx="392.55" cy="235.50" r="0.85" fill="#fff" opacity="0.5"/>
<circle cx="408.80" cy="230.40" r="2.45" fill="#45a5fc"/>
<circle cx="408.05" cy="230.10" r="0.85" fill="#fff" opacity="0.5"/>
<circle cx="424.30" cy="201.50" r="2.45" fill="#45a5fc"/>
<circle cx="423.55" cy="201.20" r="0.85" fill="#fff" opacity="0.5"/>
<circle cx="439.80" cy="231.90" r="2.45" fill="#45a5fc"/>
<circle cx="439.05" cy="231.60" r="0.85" fill="#fff" opacity="0.5"/>
<path d="M269.30,238.20 C274.42,236.21 279.54,234.21 284.80,233.20 C289.88,232.22 295.15,231.87 300.30,232.10 C305.49,232.33 310.66,234.76 315.80,234.60 C320.99,234.44 326.43,230.23 331.30,231.10 C336.86,232.09 341.34,239.17 346.80,242.00 C351.73,244.55 357.27,248.06 362.30,247.70 C367.62,247.32 372.37,239.90 377.80,239.00 C382.75,238.18 388.11,241.02 393.30,241.50 C398.44,241.98 403.63,241.90 408.80,241.90 C413.97,241.90 419.16,242.03 424.30,241.50 C429.50,240.97 434.65,239.83 439.80,238.70" fill="none" stroke="#ef9450" stroke-width="1"/>
<circle cx="269.30" cy="238.20" r="2.45" fill="#e67a2a"/>
<circle cx="268.55" cy="237.90" r="0.85" fill="#fff" opacity="0.5"/>
<circle cx="284.80" cy="233.20" r="2.45" fill="#e67a2a"/>
<circle cx="284.05" cy="232.90" r="0.85" fill="#fff" opacity="0.5"/>
<circle cx="300.30" cy="232.10" r="2.45" fill="#e67a2a"/>
<circle cx="299.55" cy="231.80" r="0.85" fill="#fff" opacity="0.5"/>
<circle cx="315.80" cy="234.60" r="2.45" fill="#e67a2a"/>
<circle cx="315.05" cy="234.30" r="0.85" fill="#fff" opacity="0.5"/>
<circle cx="331.30" cy="231.10" r="2.45" fill="#e67a2a"/>
<circle cx="330.55" cy="230.80" r="0.85" fill="#fff" opacity="0.5"/>
<circle cx="346.80" cy="242.00" r="2.45" fill="#e67a2a"/>
<circle cx="346.05" cy="241.70" r="0.85" fill="#fff" opacity="0.5"/>
<circle cx="362.30" cy="247.70" r="2.45" fill="#e67a2a"/>
<circle cx="361.55" cy="247.40" r="0.85" fill="#fff" opacity="0.5"/>
<circle cx="377.80" cy="239.00" r="2.45" fill="#e67a2a"/>
<circle cx="377.05" cy="238.70" r="0.85" fill="#fff" opacity="0.5"/>
<circle cx="393.30" cy="241.50" r="2.45" fill="#e67a2a"/>
<circle cx="392.55" cy="241.20" r="0.85" fill="#fff" opacity="0.5"/>
<circle cx="408.80" cy="241.90" r="2.45" fill="#e67a2a"/>
<circle cx="408.05" cy="241.60" r="0.85" fill="#fff" opacity="0.5"/>
<circle cx="424.30" cy="241.50" r="2.45" fill="#e67a2a"/>
<circle cx="423.55" cy="241.20" r="0.85" fill="#fff" opacity="0.5"/>
<circle cx="439.80" cy="238.70" r="2.45" fill="#e67a2a"/>
<circle cx="439.05" cy="238.40" r="0.85" fill="#fff" opacity="0.5"/>
<path d="M269.30,298.90 C274.39,296.17 279.47,293.44 284.80,292.50 C289.82,291.61 295.20,293.57 300.30,293.00 C305.53,292.41 310.57,289.57 315.80,288.90 C320.90,288.24 326.29,289.93 331.30,288.90 C336.65,287.80 341.64,284.40 346.80,282.10 C351.98,279.80 358.00,274.45 362.30,275.10 C371.05,276.42 373.38,314.16 377.80,316.10 C384.85,319.19 383.46,232.36 393.30,236.00 C397.58,237.59 402.69,252.28 408.80,258.00 C413.43,262.33 418.86,267.58 424.30,268.20 C429.24,268.76 434.52,265.88 439.80,263.00" fill="none" stroke="#a24bff" stroke-width="1"/>
<circle cx="269.30" cy="298.90" r="2.45" fill="#8a0cff"/>
<circle cx="268.55" cy="298.60" r="0.85" fill="#fff" opacity="0.5"/>
<circle cx="284.80" cy="292.50" r="2.45" fill="#8a0cff"/>
<circle cx="284.05" cy="292.20" r="0.85" fill="#fff" opacity="0.5"/>
<circle cx="300.30" cy="293.00" r="2.45" fill="#8a0cff"/>
<circle cx="299.55" cy="292.70" r="0.85" fill="#fff" opacity="0.5"/>
<circle cx="315.80" cy="288.90" r="2.45" fill="#8a0cff"/>
<circle cx="315.05" cy="288.60" r="0.85" fill="#fff" opacity="0.5"/>
<circle cx="331.30" cy="288.90" r="2.45" fill="#8a0cff"/>
<circle cx="330.55" cy="288.60" r="0.85" fill="#fff" opacity="0.5"/>
<circle cx="346.80" cy="282.10" r="2.45" fill="#8a0cff"/>
<circle cx="346.05" cy="281.80" r="0.85" fill="#fff" opacity="0.5"/>
<circle cx="362.30" cy="275.10" r="2.45" fill="#8a0cff"/>
<circle cx="361.55" cy="274.80" r="0.85" fill="#fff" opacity="0.5"/>
<circle cx="377.80" cy="316.10" r="2.45" fill="#8a0cff"/>
<circle cx="377.05" cy="315.80" r="0.85" fill="#fff" opacity="0.5"/>
<circle cx="393.30" cy="236.00" r="2.45" fill="#8a0cff"/>
<circle cx="392.55" cy="235.70" r="0.85" fill="#fff" opacity="0.5"/>
<circle cx="408.80" cy="258.00" r="2.45" fill="#8a0cff"/>
<circle cx="408.05" cy="257.70" r="0.85" fill="#fff" opacity="0.5"/>
<circle cx="424.30" cy="268.20" r="2.45" fill="#8a0cff"/>
<circle cx="423.55" cy="267.90" r="0.85" fill="#fff" opacity="0.5"/>
<circle cx="439.80" cy="263.00" r="2.45" fill="#8a0cff"/>
<circle cx="439.05" cy="262.70" r="0.85" fill="#fff" opacity="0.5"/>
<line x1="387.30" y1="276.30" x2="404.10" y2="276.30" stroke="#a24bff" stroke-width="1" />
<circle cx="395.90" cy="276.30" r="2.25" fill="#8a0cff"/>
<circle cx="395.15" cy="276.00" r="0.85" fill="#fff" opacity="0.5"/>
<text x="408.73" y="280.40" font-size="11.6" font-family="'Liberation Sans', sans-serif" fill="#111" textLength="8.35" lengthAdjust="spacingAndGlyphs" >Δ</text>
<text x="417.76" y="280.40" font-size="11.6" font-family="'Liberation Sans', sans-serif" font-style="italic" fill="#111" textLength="6.27" lengthAdjust="spacingAndGlyphs" >ε</text>
<text x="423.72" y="283.00" font-size="7.8" font-family="'Liberation Sans', sans-serif" fill="#111" textLength="10.60" lengthAdjust="spacingAndGlyphs" >1,4</text>
<line x1="387.30" y1="293.40" x2="404.10" y2="293.40" stroke="#72bfff" stroke-width="1" />
<circle cx="395.90" cy="293.40" r="2.25" fill="#45a5fc"/>
<circle cx="395.15" cy="293.10" r="0.85" fill="#fff" opacity="0.5"/>
<text x="408.73" y="296.10" font-size="11.6" font-family="'Liberation Sans', sans-serif" fill="#111" textLength="8.35" lengthAdjust="spacingAndGlyphs" >Δ</text>
<text x="417.03" y="296.10" font-size="11.6" font-family="'Liberation Sans', sans-serif" font-style="italic" fill="#111" textLength="6.57" lengthAdjust="spacingAndGlyphs" >J</text>
<text x="423.72" y="298.70" font-size="7.8" font-family="'Liberation Sans', sans-serif" fill="#111" textLength="10.60" lengthAdjust="spacingAndGlyphs" >1,4</text>
<line x1="387.30" y1="309.30" x2="404.10" y2="309.30" stroke="#ef9450" stroke-width="1" />
<circle cx="395.90" cy="309.30" r="2.25" fill="#e67a2a"/>
<circle cx="395.15" cy="309.00" r="0.85" fill="#fff" opacity="0.5"/>
<text x="408.73" y="312.20" font-size="11.6" font-family="'Liberation Sans', sans-serif" fill="#111" textLength="8.35" lengthAdjust="spacingAndGlyphs" >Δ</text>
<text x="415.31" y="312.20" font-size="11.6" font-family="'Liberation Sans', sans-serif" font-style="italic" fill="#111" textLength="10.71" lengthAdjust="spacingAndGlyphs" >K</text>
<text x="425.32" y="314.90" font-size="7.8" font-family="'Liberation Sans', sans-serif" fill="#111" textLength="10.60" lengthAdjust="spacingAndGlyphs" >1,4</text>
<rect x="266.5" y="195.2" width="176.0" height="139.40000000000003" fill="none" stroke="#3a3a3a" stroke-width="1"/>
<text x="328.16" y="362.70" font-size="14.4" font-family="'Liberation Sans', sans-serif" fill="#111" textLength="65.52" lengthAdjust="spacingAndGlyphs" >Molecules</text>
<line x1="498.30" y1="199.50" x2="501.30" y2="199.50" stroke="#3a3a3a" stroke-width="1" />
<text x="488.50" y="203.50" font-size="14.2" font-family="'Liberation Sans', sans-serif" fill="#111">4</text>
<line x1="498.30" y1="235.50" x2="501.30" y2="235.50" stroke="#3a3a3a" stroke-width="1" />
<text x="488.50" y="239.50" font-size="14.2" font-family="'Liberation Sans', sans-serif" fill="#111">0</text>
<line x1="498.30" y1="272.30" x2="501.30" y2="272.30" stroke="#3a3a3a" stroke-width="1" />
<text x="483.77" y="276.30" font-size="14.2" font-family="'Liberation Sans', sans-serif" fill="#111">-</text>
<text x="488.50" y="276.30" font-size="14.2" font-family="'Liberation Sans', sans-serif" fill="#111">4</text>
<line x1="498.30" y1="308.80" x2="501.30" y2="308.80" stroke="#3a3a3a" stroke-width="1" />
<text x="483.77" y="312.80" font-size="14.2" font-family="'Liberation Sans', sans-serif" fill="#111">-</text>
<text x="488.50" y="312.80" font-size="14.2" font-family="'Liberation Sans', sans-serif" fill="#111">8</text>
<line x1="503.60" y1="334.90" x2="503.60" y2="337.90" stroke="#3a3a3a" stroke-width="1" />
<path d="M515,0 L515,1237 L197,1010 L197,1180 L530,1409 L696,1409 L696,0 Z" transform="translate(499.29,349.70) scale(0.00669,-0.00669)" fill="#111"/>
<line x1="519.13" y1="334.90" x2="519.13" y2="337.90" stroke="#3a3a3a" stroke-width="1" />
<text x="514.82" y="349.70" font-size="13.7" font-family="'Liberation Sans', sans-serif" fill="#111">2</text>
<line x1="534.66" y1="334.90" x2="534.66" y2="337.90" stroke="#3a3a3a" stroke-width="1" />
<text x="530.35" y="349.70" font-size="13.7" font-family="'Liberation Sans', sans-serif" fill="#111">3</text>
<line x1="550.19" y1="334.90" x2="550.19" y2="337.90" stroke="#3a3a3a" stroke-width="1" />
<text x="545.88" y="349.70" font-size="13.7" font-family="'Liberation Sans', sans-serif" fill="#111">4</text>
<line x1="565.72" y1="334.90" x2="565.72" y2="337.90" stroke="#3a3a3a" stroke-width="1" />
<text x="561.41" y="349.70" font-size="13.7" font-family="'Liberation Sans', sans-serif" fill="#111">5</text>
<line x1="581.25" y1="334.90" x2="581.25" y2="337.90" stroke="#3a3a3a" stroke-width="1" />
<text x="576.94" y="349.70" font-size="13.7" font-family="'Liberation Sans', sans-serif" fill="#111">6</text>
<line x1="596.78" y1="334.90" x2="596.78" y2="337.90" stroke="#3a3a3a" stroke-width="1" />
<text x="592.47" y="349.70" font-size="13.7" font-family="'Liberation Sans', sans-serif" fill="#111">7</text>
<line x1="612.31" y1="334.90" x2="612.31" y2="337.90" stroke="#3a3a3a" stroke-width="1" />
<text x="608.00" y="349.70" font-size="13.7" font-family="'Liberation Sans', sans-serif" fill="#111">8</text>
<line x1="627.84" y1="334.90" x2="627.84" y2="337.90" stroke="#3a3a3a" stroke-width="1" />
<text x="623.53" y="349.70" font-size="13.7" font-family="'Liberation Sans', sans-serif" fill="#111">9</text>
<line x1="643.37" y1="334.90" x2="643.37" y2="337.90" stroke="#3a3a3a" stroke-width="1" />
<path d="M515,0 L515,1237 L197,1010 L197,1180 L530,1409 L696,1409 L696,0 Z" transform="translate(635.10,349.70) scale(0.00669,-0.00669)" fill="#111"/>
<text x="642.72" y="349.70" font-size="13.7" font-family="'Liberation Sans', sans-serif" fill="#111">0</text>
<line x1="658.90" y1="334.90" x2="658.90" y2="337.90" stroke="#3a3a3a" stroke-width="1" />
<path d="M515,0 L515,1237 L197,1010 L197,1180 L530,1409 L696,1409 L696,0 Z" transform="translate(653.38,349.70) scale(0.00669,-0.00669)" fill="#111"/>
<path d="M515,0 L515,1237 L197,1010 L197,1180 L530,1409 L696,1409 L696,0 Z" transform="translate(661.00,349.70) scale(0.00669,-0.00669)" fill="#111"/>
<line x1="674.43" y1="334.90" x2="674.43" y2="337.90" stroke="#3a3a3a" stroke-width="1" />
<path d="M515,0 L515,1237 L197,1010 L197,1180 L530,1409 L696,1409 L696,0 Z" transform="translate(670.71,349.70) scale(0.00669,-0.00669)" fill="#111"/>
<text x="678.33" y="349.70" font-size="13.7" font-family="'Liberation Sans', sans-serif" fill="#111">2</text>
<path d="M503.60,310.20 C508.61,306.20 513.61,302.20 519.13,300.80 C524.04,299.56 529.52,301.61 534.66,301.20 C539.87,300.79 544.98,298.71 550.19,298.30 C555.33,297.89 560.94,300.19 565.72,298.70 C571.48,296.90 575.80,286.61 581.25,286.20 C586.20,285.83 592.43,294.96 596.78,294.40 C604.73,293.38 606.18,269.04 612.31,258.30 C616.94,250.19 622.10,236.41 627.84,236.20 C632.62,236.03 637.57,247.37 643.37,250.60 C648.13,253.25 653.64,254.79 658.90,255.40 C663.99,255.99 669.21,255.20 674.43,254.40" fill="none" stroke="#a24bff" stroke-width="1"/>
<circle cx="503.60" cy="310.20" r="2.45" fill="#8a0cff"/>
<circle cx="502.85" cy="309.90" r="0.85" fill="#fff" opacity="0.5"/>
<circle cx="519.13" cy="300.80" r="2.45" fill="#8a0cff"/>
<circle cx="518.38" cy="300.50" r="0.85" fill="#fff" opacity="0.5"/>
<circle cx="534.66" cy="301.20" r="2.45" fill="#8a0cff"/>
<circle cx="533.91" cy="300.90" r="0.85" fill="#fff" opacity="0.5"/>
<circle cx="550.19" cy="298.30" r="2.45" fill="#8a0cff"/>
<circle cx="549.44" cy="298.00" r="0.85" fill="#fff" opacity="0.5"/>
<circle cx="565.72" cy="298.70" r="2.45" fill="#8a0cff"/>
<circle cx="564.97" cy="298.40" r="0.85" fill="#fff" opacity="0.5"/>
<circle cx="581.25" cy="286.20" r="2.45" fill="#8a0cff"/>
<circle cx="580.50" cy="285.90" r="0.85" fill="#fff" opacity="0.5"/>
<circle cx="596.78" cy="294.40" r="2.45" fill="#8a0cff"/>
<circle cx="596.03" cy="294.10" r="0.85" fill="#fff" opacity="0.5"/>
<circle cx="612.31" cy="258.30" r="2.45" fill="#8a0cff"/>
<circle cx="611.56" cy="258.00" r="0.85" fill="#fff" opacity="0.5"/>
<circle cx="627.84" cy="236.20" r="2.45" fill="#8a0cff"/>
<circle cx="627.09" cy="235.90" r="0.85" fill="#fff" opacity="0.5"/>
<circle cx="643.37" cy="250.60" r="2.45" fill="#8a0cff"/>
<circle cx="642.62" cy="250.30" r="0.85" fill="#fff" opacity="0.5"/>
<circle cx="658.90" cy="255.40" r="2.45" fill="#8a0cff"/>
<circle cx="658.15" cy="255.10" r="0.85" fill="#fff" opacity="0.5"/>
<circle cx="674.43" cy="254.40" r="2.45" fill="#8a0cff"/>
<circle cx="673.68" cy="254.10" r="0.85" fill="#fff" opacity="0.5"/>
<path d="M503.60,224.50 C508.56,230.52 513.52,236.54 519.13,237.30 C523.98,237.96 529.35,232.57 534.66,231.40 C539.72,230.28 545.01,230.37 550.19,230.20 C555.36,230.03 561.15,228.51 565.72,230.40 C572.07,233.02 576.45,248.80 581.25,248.80 C586.96,248.79 590.03,223.67 596.78,222.70 C601.26,222.05 606.96,228.82 612.31,231.00 C617.33,233.05 622.64,235.50 627.84,235.60 C632.99,235.70 638.19,232.98 643.37,231.70 C648.54,230.42 653.73,227.87 658.90,227.90 C664.08,227.93 669.26,229.92 674.43,231.90" fill="none" stroke="#72bfff" stroke-width="1"/>
<circle cx="503.60" cy="224.50" r="2.45" fill="#45a5fc"/>
<circle cx="502.85" cy="224.20" r="0.85" fill="#fff" opacity="0.5"/>
<circle cx="519.13" cy="237.30" r="2.45" fill="#45a5fc"/>
<circle cx="518.38" cy="237.00" r="0.85" fill="#fff" opacity="0.5"/>
<circle cx="534.66" cy="231.40" r="2.45" fill="#45a5fc"/>
<circle cx="533.91" cy="231.10" r="0.85" fill="#fff" opacity="0.5"/>
<circle cx="550.19" cy="230.20" r="2.45" fill="#45a5fc"/>
<circle cx="549.44" cy="229.90" r="0.85" fill="#fff" opacity="0.5"/>
<circle cx="565.72" cy="230.40" r="2.45" fill="#45a5fc"/>
<circle cx="564.97" cy="230.10" r="0.85" fill="#fff" opacity="0.5"/>
<circle cx="581.25" cy="248.80" r="2.45" fill="#45a5fc"/>
<circle cx="580.50" cy="248.50" r="0.85" fill="#fff" opacity="0.5"/>
<circle cx="596.78" cy="222.70" r="2.45" fill="#45a5fc"/>
<circle cx="596.03" cy="222.40" r="0.85" fill="#fff" opacity="0.5"/>
<circle cx="612.31" cy="231.00" r="2.45" fill="#45a5fc"/>
<circle cx="611.56" cy="230.70" r="0.85" fill="#fff" opacity="0.5"/>
<circle cx="627.84" cy="235.60" r="2.45" fill="#45a5fc"/>
<circle cx="627.09" cy="235.30" r="0.85" fill="#fff" opacity="0.5"/>
<circle cx="643.37" cy="231.70" r="2.45" fill="#45a5fc"/>
<circle cx="642.62" cy="231.40" r="0.85" fill="#fff" opacity="0.5"/>
<circle cx="658.90" cy="227.90" r="2.45" fill="#45a5fc"/>
<circle cx="658.15" cy="227.60" r="0.85" fill="#fff" opacity="0.5"/>
<circle cx="674.43" cy="231.90" r="2.45" fill="#45a5fc"/>
<circle cx="673.68" cy="231.60" r="0.85" fill="#fff" opacity="0.5"/>
<path d="M503.60,226.30 C508.72,223.86 513.83,221.42 519.13,220.70 C524.20,220.01 529.48,221.42 534.66,221.80 C539.84,222.18 545.01,222.85 550.19,223.00 C555.36,223.15 561.06,224.50 565.72,222.70 C571.78,220.35 576.46,206.89 581.25,207.00 C586.98,207.13 590.66,229.94 596.78,230.40 C601.42,230.74 607.07,218.88 612.31,218.80 C617.43,218.72 622.29,227.08 627.84,229.40 C632.73,231.44 638.39,233.38 643.37,232.70 C648.78,231.96 653.72,224.20 658.90,224.20 C664.08,224.20 669.25,228.45 674.43,232.70" fill="none" stroke="#ef9450" stroke-width="1"/>
<circle cx="503.60" cy="226.30" r="2.45" fill="#e67a2a"/>
<circle cx="502.85" cy="226.00" r="0.85" fill="#fff" opacity="0.5"/>
<circle cx="519.13" cy="220.70" r="2.45" fill="#e67a2a"/>
<circle cx="518.38" cy="220.40" r="0.85" fill="#fff" opacity="0.5"/>
<circle cx="534.66" cy="221.80" r="2.45" fill="#e67a2a"/>
<circle cx="533.91" cy="221.50" r="0.85" fill="#fff" opacity="0.5"/>
<circle cx="550.19" cy="223.00" r="2.45" fill="#e67a2a"/>
<circle cx="549.44" cy="222.70" r="0.85" fill="#fff" opacity="0.5"/>
<circle cx="565.72" cy="222.70" r="2.45" fill="#e67a2a"/>
<circle cx="564.97" cy="222.40" r="0.85" fill="#fff" opacity="0.5"/>
<circle cx="581.25" cy="207.00" r="2.45" fill="#e67a2a"/>
<circle cx="580.50" cy="206.70" r="0.85" fill="#fff" opacity="0.5"/>
<circle cx="596.78" cy="230.40" r="2.45" fill="#e67a2a"/>
<circle cx="596.03" cy="230.10" r="0.85" fill="#fff" opacity="0.5"/>
<circle cx="612.31" cy="218.80" r="2.45" fill="#e67a2a"/>
<circle cx="611.56" cy="218.50" r="0.85" fill="#fff" opacity="0.5"/>
<circle cx="627.84" cy="229.40" r="2.45" fill="#e67a2a"/>
<circle cx="627.09" cy="229.10" r="0.85" fill="#fff" opacity="0.5"/>
<circle cx="643.37" cy="232.70" r="2.45" fill="#e67a2a"/>
<circle cx="642.62" cy="232.40" r="0.85" fill="#fff" opacity="0.5"/>
<circle cx="658.90" cy="224.20" r="2.45" fill="#e67a2a"/>
<circle cx="658.15" cy="223.90" r="0.85" fill="#fff" opacity="0.5"/>
<circle cx="674.43" cy="232.70" r="2.45" fill="#e67a2a"/>
<circle cx="673.68" cy="232.40" r="0.85" fill="#fff" opacity="0.5"/>
<line x1="622.10" y1="276.30" x2="638.90" y2="276.30" stroke="#a24bff" stroke-width="1" />
<circle cx="630.70" cy="276.30" r="2.25" fill="#8a0cff"/>
<circle cx="629.95" cy="276.00" r="0.85" fill="#fff" opacity="0.5"/>
<text x="643.53" y="280.40" font-size="11.6" font-family="'Liberation Sans', sans-serif" fill="#111" textLength="8.35" lengthAdjust="spacingAndGlyphs" >Δ</text>
<text x="652.56" y="280.40" font-size="11.6" font-family="'Liberation Sans', sans-serif" font-style="italic" fill="#111" textLength="6.27" lengthAdjust="spacingAndGlyphs" >ε</text>
<text x="658.80" y="283.00" font-size="7.8" font-family="'Liberation Sans', sans-serif" fill="#111" textLength="10.48" lengthAdjust="spacingAndGlyphs" >5,2</text>
<line x1="622.10" y1="293.40" x2="638.90" y2="293.40" stroke="#72bfff" stroke-width="1" />
<circle cx="630.70" cy="293.40" r="2.25" fill="#45a5fc"/>
<circle cx="629.95" cy="293.10" r="0.85" fill="#fff" opacity="0.5"/>
<text x="643.53" y="296.10" font-size="11.6" font-family="'Liberation Sans', sans-serif" fill="#111" textLength="8.35" lengthAdjust="spacingAndGlyphs" >Δ</text>
<text x="651.83" y="296.10" font-size="11.6" font-family="'Liberation Sans', sans-serif" font-style="italic" fill="#111" textLength="6.57" lengthAdjust="spacingAndGlyphs" >J</text>
<text x="658.80" y="298.70" font-size="7.8" font-family="'Liberation Sans', sans-serif" fill="#111" textLength="10.48" lengthAdjust="spacingAndGlyphs" >5,2</text>
<line x1="622.10" y1="309.30" x2="638.90" y2="309.30" stroke="#ef9450" stroke-width="1" />
<circle cx="630.70" cy="309.30" r="2.25" fill="#e67a2a"/>
<circle cx="629.95" cy="309.00" r="0.85" fill="#fff" opacity="0.5"/>
<text x="643.53" y="312.20" font-size="11.6" font-family="'Liberation Sans', sans-serif" fill="#111" textLength="8.35" lengthAdjust="spacingAndGlyphs" >Δ</text>
<text x="650.11" y="312.20" font-size="11.6" font-family="'Liberation Sans', sans-serif" font-style="italic" fill="#111" textLength="10.71" lengthAdjust="spacingAndGlyphs" >K</text>
<text x="660.40" y="314.90" font-size="7.8" font-family="'Liberation Sans', sans-serif" fill="#111" textLength="10.48" lengthAdjust="spacingAndGlyphs" >5,2</text>
<rect x="501.3" y="195.3" width="175.99999999999994" height="139.59999999999997" fill="none" stroke="#3a3a3a" stroke-width="1"/>
<text x="562.86" y="362.70" font-size="14.4" font-family="'Liberation Sans', sans-serif" fill="#111" textLength="65.52" lengthAdjust="spacingAndGlyphs" >Molecules</text>
<g transform="rotate(-90)">
<text x="-299.27" y="12.30" font-size="12.5" font-family="'Liberation Serif', serif" fill="#444" textLength="9.63" lengthAdjust="spacingAndGlyphs" >Δ</text>
<text x="-290.39" y="12.30" font-size="12.5" font-family="'Liberation Serif', serif" font-style="italic" fill="#333" textLength="10.88" lengthAdjust="spacingAndGlyphs" >E</text>
<text x="-280.32" y="8.20" font-size="10" font-family="'Liberation Sans', sans-serif" fill="#111" textLength="17.50" lengthAdjust="spacingAndGlyphs" >CID</text>
<text x="-282.25" y="17.10" font-size="10" font-family="'Liberation Sans', sans-serif" fill="#111" textLength="13.75" lengthAdjust="spacingAndGlyphs" >1,2</text>
<text x="-260.38" y="12.80" font-size="13.6" font-family="'Liberation Sans', sans-serif" fill="#111" textLength="26.76" lengthAdjust="spacingAndGlyphs" >(eV)</text>
</g>
<g transform="rotate(-90)">
<text x="-299.27" y="243.30" font-size="12.5" font-family="'Liberation Serif', serif" fill="#444" textLength="9.63" lengthAdjust="spacingAndGlyphs" >Δ</text>
<text x="-290.39" y="243.30" font-size="12.5" font-family="'Liberation Serif', serif" font-style="italic" fill="#333" textLength="10.88" lengthAdjust="spacingAndGlyphs" >E</text>
<text x="-280.32" y="239.20" font-size="10" font-family="'Liberation Sans', sans-serif" fill="#111" textLength="17.50" lengthAdjust="spacingAndGlyphs" >CID</text>
<text x="-282.24" y="248.10" font-size="10" font-family="'Liberation Sans', sans-serif" fill="#111" textLength="13.53" lengthAdjust="spacingAndGlyphs" >1,4</text>
<text x="-260.38" y="243.80" font-size="13.6" font-family="'Liberation Sans', sans-serif" fill="#111" textLength="26.76" lengthAdjust="spacingAndGlyphs" >(eV)</text>
</g>
<g transform="rotate(-90)">
<text x="-299.27" y="478.10" font-size="12.5" font-family="'Liberation Serif', serif" fill="#444" textLength="9.63" lengthAdjust="spacingAndGlyphs" >Δ</text>
<text x="-290.39" y="478.10" font-size="12.5" font-family="'Liberation Serif', serif" font-style="italic" fill="#333" textLength="10.88" lengthAdjust="spacingAndGlyphs" >E</text>
<text x="-280.32" y="474.00" font-size="10" font-family="'Liberation Sans', sans-serif" fill="#111" textLength="17.50" lengthAdjust="spacingAndGlyphs" >CID</text>
<text x="-281.89" y="482.90" font-size="10" font-family="'Liberation Sans', sans-serif" fill="#111" textLength="13.37" lengthAdjust="spacingAndGlyphs" >5,2</text>
<text x="-260.38" y="478.60" font-size="13.6" font-family="'Liberation Sans', sans-serif" fill="#111" textLength="26.76" lengthAdjust="spacingAndGlyphs" >(eV)</text>
</g>
</svg>
</body></html>
